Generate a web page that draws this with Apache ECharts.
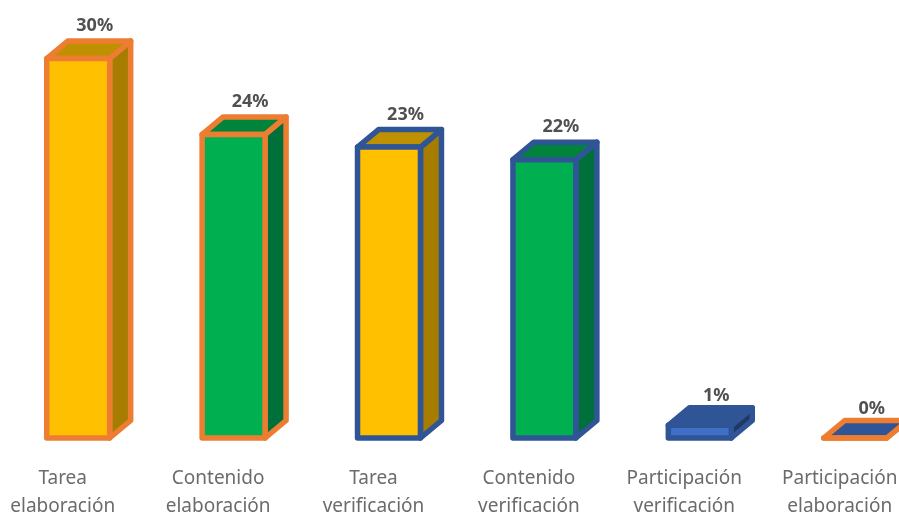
<!DOCTYPE html>
<html>
<head>
<meta charset="utf-8">
<style>html,body{margin:0;padding:0;background:#fff}#c{width:899px;height:514px}</style>
<script src="https://cdn.jsdelivr.net/npm/echarts@6/dist/echarts.min.js"></script>
</head>
<body>
<div id="c"></div>
<script>
const categories = ['Tarea\nelaboración','Contenido\nelaboración','Tarea\nverificación','Contenido\nverificación','Participación\nverificación','Participación\nelaboración'];
const values = [30,24,23,22,1,0];
const frontColors = ['#FFC000','#00B050','#FFC000','#00B050','#3F6FC6','#2F5597'];
const sideColors = ['#A67D00','#00703A','#A67D00','#00703A','#203864','#203864'];
const topColors = ['#BF9000','#00843C','#BF9000','#00843C','#2F5597','#2F5597'];
const edgeColors = ['#ED7D31','#ED7D31','#2F5597','#2F5597','#2F5597','#ED7D31'];

const DX = 21, DY = 17.5, SW = 5.5;
const chart = echarts.init(document.getElementById('c'), null, {renderer:'canvas'});
chart.setOption({
  backgroundColor:'#fff',
  animation:false,
  grid:{left:0.5,top:58.5,width:932.4,height:379.5,containLabel:false,outerBoundsMode:'none'},
  xAxis:{type:'category',data:categories,
    axisLine:{show:false},axisTick:{show:false},
    axisLabel:{interval:0,margin:27,color:'#6b6b6b',fontFamily:'"Noto Sans"',fontSize:19,lineHeight:28,padding:[0,31,0,0],align:'center',hideOverlap:false}},
  yAxis:{type:'value',min:0,max:30,show:false},
  series:[{
    type:'custom',
    clip:false,
    data:values.map((v,i)=>[i,v]),
    encode:{x:0,y:1},
    renderItem:(params,api)=>{
      const i=api.value(0), v=api.value(1);
      const t=api.coord([i,v]), b=api.coord([i,0]);
      const w=api.size([1,0])[0]*0.405;
      const x0=t[0]-w/2, x1=t[0]+w/2, y0=t[1], y1=b[1];
      const st=c=>({fill:c,stroke:edgeColors[i],lineWidth:SW,lineJoin:'round'});
      return {type:'group',children:[
        {type:'polygon',shape:{points:[[x1,y0],[x1+DX,y0-DY],[x1+DX,y1-DY],[x1,y1]]},style:st(sideColors[i])},
        {type:'polygon',shape:{points:[[x0,y0],[x0+DX,y0-DY],[x1+DX,y0-DY],[x1,y0]]},style:st(topColors[i])},
        {type:'polygon',shape:{points:[[x0,y0],[x1,y0],[x1,y1],[x0,y1]]},style:st(frontColors[i])},
        {type:'text',style:{x:t[0]+16.5,y:y0-DY-(v<5?12:15),text:v+'%',align:'center',verticalAlign:'middle',
          fill:'#505050',fontFamily:'"Noto Sans"',fontWeight:'bold',fontSize:18}}
      ]};
    }
  }]
});
</script>
</body>
</html>
